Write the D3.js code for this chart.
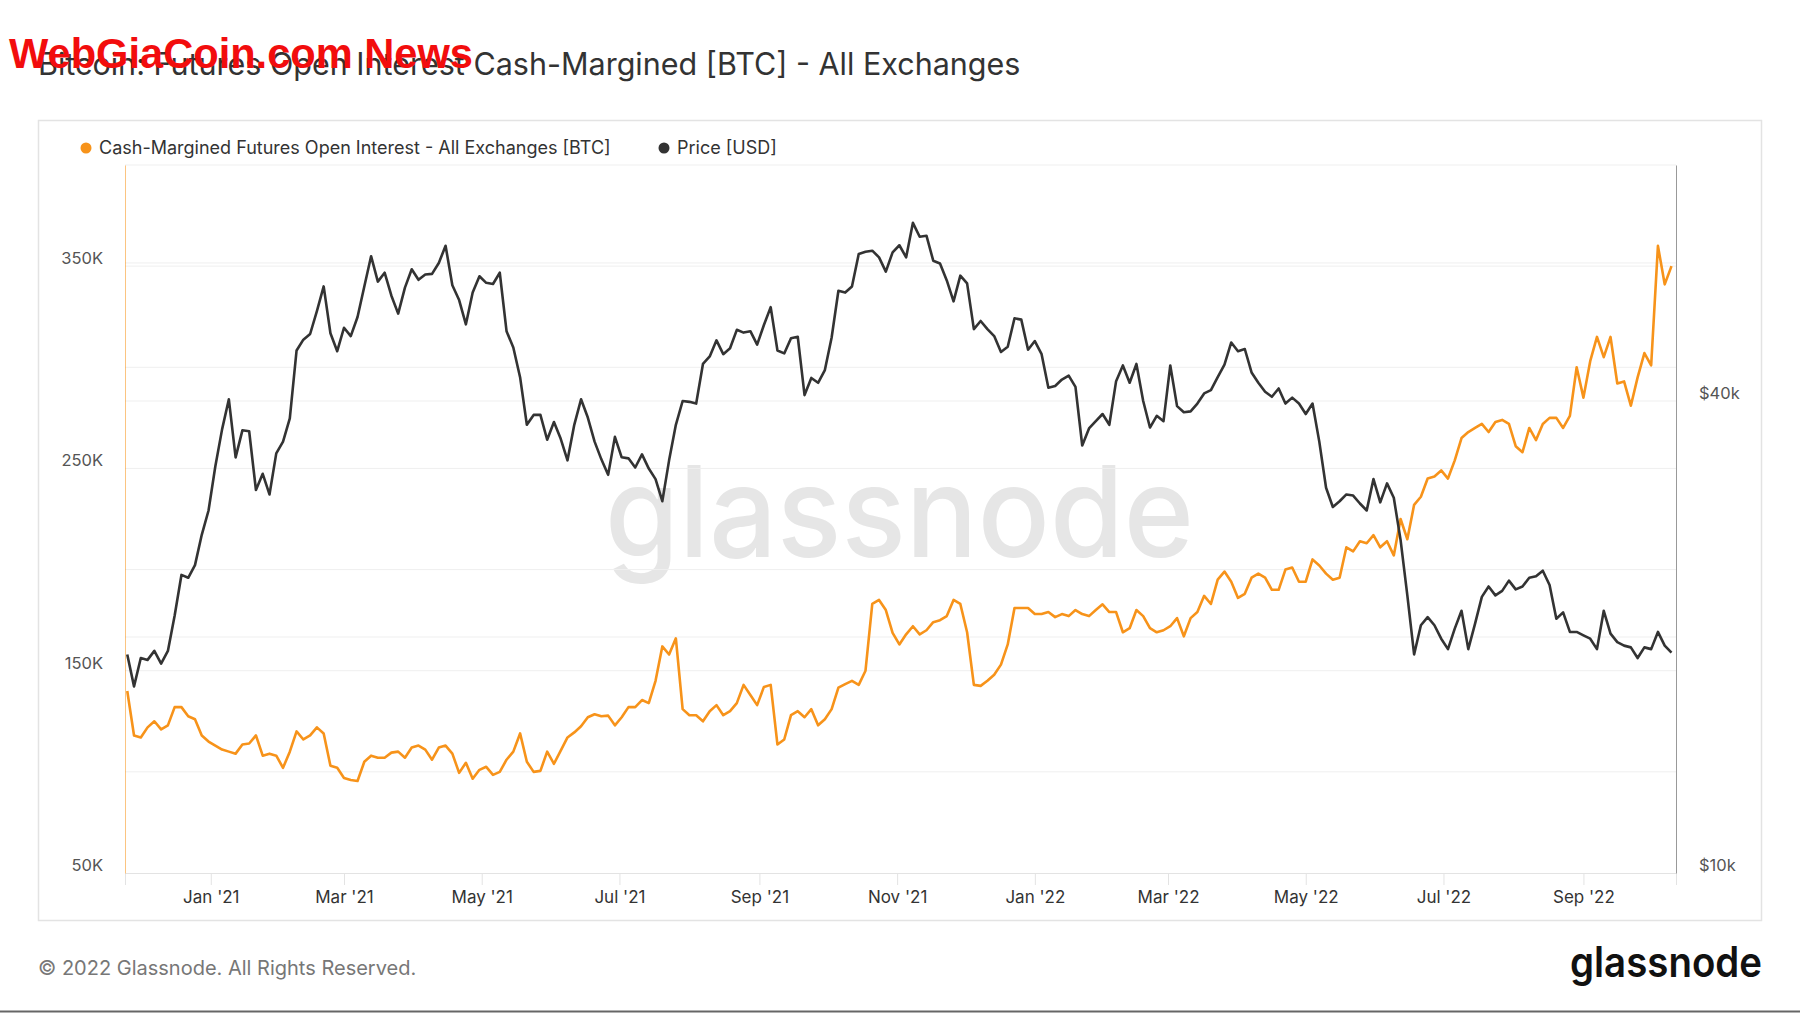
<!DOCTYPE html>
<html lang="en">
    <head>
        <meta charset="utf-8">
        <title>Futures Open Interest Cash-Margined</title>
        <script src="https://d3js.org/d3.v7.min.js"></script>
        <style type="text/css">
            body { margin: 0; background: #fff; }
            svg { display: block; font-family: Inter, "Noto Sans", sans-serif; }
        </style>
    </head>
    <body>
        <script type="text/javascript">

            //1. Consts
            const svgW = 1800;
            const svgH = 1013;
            const plot = {left: 125, right: 1676, top: 165, bottom: 873};
            const orange = "#f7931a";
            const dark = "#333333";

            //2. Data: one value every 3 days, 25 Nov 2020 -> 10 Oct 2022
            const startDate = new Date(2020, 10, 25);
            const stepDays = 3;

            // open interest, thousand BTC
            const oiValues = [
                140, 118, 117, 122, 125, 121, 123, 132, 132, 127.5,
                126, 118, 115, 113, 111, 110, 109, 113.5, 114, 118,
                108, 109, 108, 102, 110, 120, 116, 118, 122, 119,
                103, 102, 97, 96, 95.5, 105, 108, 107, 107, 109.5,
                110, 107, 112, 113, 111, 106, 112, 113, 109, 99.5,
                104.5, 96.6, 101, 102.5, 98.5, 100, 106, 110, 119, 105,
                100, 100.5, 110, 104, 110.5, 117, 119.5, 122.5, 127, 128.5,
                127.5, 127.8, 123, 127, 132, 132, 135.5, 134, 145, 162,
                158, 166, 131, 128, 128, 125, 130, 133, 128, 130,
                134, 143, 138, 133, 142, 143, 113.5, 116, 128, 130,
                127, 131, 123, 126, 131, 141.6, 143.4, 145, 143, 150,
                183, 185, 180, 168.7, 163, 168, 172, 168, 170, 174,
                175, 177, 185, 183, 169, 143, 142.5, 145, 148, 153,
                163, 181, 181, 181, 178, 178, 179, 176.5, 178, 177,
                180, 178, 177, 180, 182.8, 179, 179, 169, 171, 180,
                177, 171, 169, 170, 172, 176, 167, 176, 179, 187,
                183, 195, 199, 194, 186, 188, 196, 198, 196, 190,
                190, 200, 201, 194, 194, 205, 202, 198, 195, 196,
                211, 209, 214, 213, 217, 211, 214, 207, 225, 215,
                232, 236, 245, 246, 249, 245, 254, 265, 268, 270,
                272, 268, 273, 274, 272, 261, 258, 270, 264, 272,
                275, 275, 270, 276, 300, 285, 303, 315, 305, 315,
                292, 293, 281, 295, 307, 301, 360, 341, 350
            ];

            // BTC price, thousand USD
            const priceValues = [
                19.0, 17.3, 18.8, 18.7, 19.2, 18.5, 19.2, 21.3, 24.0, 23.8,
                24.7, 27.0, 29.0, 33.0, 36.8, 40.2, 33.9, 36.7, 36.6, 30.8,
                32.3, 30.4, 34.3, 35.5, 38.0, 46.4, 47.9, 48.7, 52.1, 56.0,
                48.8, 46.3, 49.6, 48.4, 51.2, 56.0, 61.2, 56.8, 58.3, 54.5,
                51.7, 55.8, 58.9, 57.1, 58.0, 58.1, 60.0, 63.1, 56.2, 53.8,
                50.1, 55.0, 57.7, 56.6, 56.4, 58.3, 49.1, 46.8, 42.9, 37.3,
                38.4, 38.4, 35.7, 37.6, 35.8, 33.6, 37.3, 40.2, 38.1, 35.5,
                33.7, 32.2, 36.0, 33.9, 33.8, 32.9, 34.2, 32.8, 31.8, 29.8,
                33.6, 37.3, 40.0, 39.9, 39.7, 44.6, 45.6, 47.8, 45.9, 46.7,
                49.3, 48.9, 49.1, 47.2, 50.0, 52.7, 46.4, 46.0, 48.1, 48.3,
                40.7, 42.8, 42.2, 43.8, 48.2, 55.3, 55.0, 56.0, 61.6, 62.0,
                62.2, 61.0, 58.5, 61.9, 63.2, 61.0, 67.5, 64.8, 65.0, 60.4,
                59.9, 57.0, 53.6, 57.8, 56.5, 49.4, 50.6, 49.4, 48.4, 46.2,
                46.9, 51.0, 50.8, 46.5, 47.7, 45.9, 41.6, 41.8, 42.6, 43.1,
                41.7, 35.1, 36.9, 37.7, 38.5, 37.3, 42.4, 44.4, 42.2, 44.6,
                40.0, 37.0, 38.3, 37.7, 44.4, 39.4, 38.7, 38.8, 39.7, 40.9,
                41.3, 42.9, 44.5, 47.5, 46.3, 46.6, 43.5, 42.2, 41.1, 40.5,
                41.5, 39.7, 40.4, 39.7, 38.5, 39.7, 35.5, 31.0, 29.3, 29.8,
                30.4, 30.3, 29.6, 29.0, 31.8, 29.7, 31.4, 30.1, 26.6, 22.6,
                19.0, 20.7, 21.2, 20.7, 19.9, 19.3, 20.5, 21.6, 19.3, 20.8,
                22.5, 23.2, 22.6, 22.9, 23.6, 23.0, 23.2, 23.8, 23.9, 24.3,
                23.3, 21.1, 21.5, 20.3, 20.3, 20.1, 19.9, 19.3, 21.6, 20.2,
                19.7, 19.5, 19.4, 18.8, 19.4, 19.3, 20.3, 19.5, 19.1
            ];

            // axis ticks
            const leftTicks = [50000, 150000, 250000, 350000];
            const leftGrid = [100000, 150000, 200000, 250000, 300000, 350000];
            const rightTicks = [10000, 40000];
            const rightGrid = [20000, 40000, 60000, 80000];
            const monthTicks = ["2021-01-01", "2021-03-01", "2021-05-01", "2021-07-01", "2021-09-01", "2021-11-01",
                                "2022-01-01", "2022-03-01", "2022-05-01", "2022-07-01", "2022-09-01"];

            const dates = oiValues.map((v, i) => d3.timeDay.offset(startDate, i * stepDays));
            const oiData = oiValues.map((v, i) => [dates[i], v * 1000]);
            const priceData = priceValues.map((v, i) => [dates[i], v * 1000]);

            //3. Scales
            const xScale = d3.scaleTime()
                            .domain([new Date(2020, 10, 24), new Date(2022, 9, 12)])
                            .range([plot.left, plot.right]);

            const yLeft = d3.scaleLinear()
                            .domain([50000, 400000])
                            .range([plot.bottom, plot.top]);

            const yRight = d3.scaleLog()
                            .domain([10000, 80000])
                            .range([plot.bottom, plot.top]);

            //4. SVG
            const svg = d3.select("body")
                        .append("svg")
                        .attr("width", svgW)
                        .attr("height", svgH);

            // title
            svg.append("text")
                .attr("x", 38)
                .attr("y", 75)
                .attr("font-size", "30.5px")
                .attr("fill", dark)
                .text("Bitcoin: Futures Open Interest Cash-Margined [BTC] - All Exchanges");

            // outer frame
            svg.append("rect")
                .attr("x", 38.5)
                .attr("y", 120.5)
                .attr("width", 1723)
                .attr("height", 800)
                .attr("fill", "none")
                .attr("stroke", "#e3e3e3")
                .attr("stroke-width", 1.5);

            // legend
            const legend = [
                {label: "Cash-Margined Futures Open Interest - All Exchanges [BTC]", color: orange, x: 86},
                {label: "Price [USD]", color: dark, x: 664}
            ];
            const lg = svg.selectAll(".legend")
                .data(legend)
                .enter()
                .append("g")
                .attr("transform", d => "translate(" + d.x + ",148)");
            lg.append("circle").attr("r", 5.5).attr("fill", d => d.color);
            lg.append("text")
                .attr("x", 13)
                .attr("dy", "0.35em")
                .attr("font-size", "18px")
                .attr("fill", dark)
                .text(d => d.label);

            // watermark
            svg.append("text")
                .attr("x", 605)
                .attr("y", 557)
                .attr("font-size", "126px")
                .attr("font-weight", 500)
                .attr("fill", "#e6e6e6")
                .attr("textLength", 589)
                .attr("lengthAdjust", "spacingAndGlyphs")
                .text("glassnode");

            // grid lines
            svg.selectAll(".gridL")
                .data(leftGrid)
                .enter()
                .append("line")
                .attr("x1", plot.left).attr("x2", plot.right)
                .attr("y1", d => yLeft(d)).attr("y2", d => yLeft(d))
                .attr("stroke", "#efefef");

            svg.selectAll(".gridR")
                .data(rightGrid)
                .enter()
                .append("line")
                .attr("x1", plot.left).attr("x2", plot.right)
                .attr("y1", d => yRight(d)).attr("y2", d => yRight(d))
                .attr("stroke", "#efefef");

            // bottom (x) axis
            const bottomAxis = d3.axisBottom(xScale)
                                .tickValues(monthTicks.map(d => d3.timeParse("%Y-%m-%d")(d)))
                                .tickFormat(d3.timeFormat("%b '%y"))
                                .tickSize(12)
                                .tickPadding(6);

            const gx = svg.append("g")
                .attr("transform", "translate(0," + plot.bottom + ")")
                .call(bottomAxis);
            gx.select(".domain").attr("stroke", "#e3e3e3");
            gx.selectAll(".tick line").attr("stroke", "#e3e3e3");
            gx.selectAll(".tick text")
                .attr("font-family", "Inter, sans-serif")
                .attr("font-size", "17px")
                .attr("fill", dark);

            // left (Y) axis
            const leftAxis = d3.axisLeft(yLeft)
                                .tickValues(leftTicks)
                                .tickFormat(d => (d / 1000) + "K")
                                .tickSize(0)
                                .tickPadding(22);

            const gl = svg.append("g")
                .attr("transform", "translate(" + plot.left + ",0)")
                .call(leftAxis);
            gl.select(".domain").attr("stroke", orange).attr("stroke-opacity", 0.55);
            gl.selectAll(".tick text")
                .attr("font-family", "Inter, sans-serif")
                .attr("font-size", "16.5px")
                .attr("fill", "#555")
                .attr("dy", "-0.15em");

            // right (price) axis
            const rightAxis = d3.axisRight(yRight)
                                .tickValues(rightTicks)
                                .tickFormat(d => "$" + (d / 1000) + "k")
                                .tickSize(0)
                                .tickPadding(23);

            const gr = svg.append("g")
                .attr("transform", "translate(" + plot.right + ",0)")
                .call(rightAxis);
            gr.select(".domain").attr("stroke", "#999");
            gr.selectAll(".tick text")
                .attr("font-family", "Inter, sans-serif")
                .attr("font-size", "16.5px")
                .attr("fill", "#555")
                .attr("dy", "-0.15em");

            // lines
            const oiLine = d3.line()
                            .x(d => xScale(d[0]))
                            .y(d => yLeft(d[1]));

            const priceLine = d3.line()
                            .x(d => xScale(d[0]))
                            .y(d => yRight(d[1]));

            svg.append("path")
                .datum(oiData)
                .attr("d", oiLine)
                .attr("fill", "none")
                .attr("stroke", orange)
                .attr("stroke-width", 2.6)
                .attr("stroke-linejoin", "round");

            svg.append("path")
                .datum(priceData)
                .attr("d", priceLine)
                .attr("fill", "none")
                .attr("stroke", dark)
                .attr("stroke-width", 2.6)
                .attr("stroke-linejoin", "round");

            // footer
            svg.append("text")
                .attr("x", 38)
                .attr("y", 975)
                .attr("font-size", "20px")
                .attr("fill", "#777")
                .text("\u00a9 2022 Glassnode. All Rights Reserved.");

            svg.append("text")
                .attr("x", 1570)
                .attr("y", 977)
                .attr("font-size", "42px")
                .attr("font-weight", 600)
                .attr("fill", "#111")
                .attr("textLength", 192)
                .attr("lengthAdjust", "spacingAndGlyphs")
                .text("glassnode");

            svg.append("line")
                .attr("x1", 0).attr("x2", svgW)
                .attr("y1", 1011.5).attr("y2", 1011.5)
                .attr("stroke", "#666")
                .attr("stroke-width", 2);

            // red stamp over the title
            svg.append("text")
                .attr("x", 9)
                .attr("y", 68)
                .attr("font-family", "'Liberation Sans', Arial, sans-serif")
                .attr("font-size", "43px")
                .attr("font-weight", "bold")
                .attr("fill", "#f20d0d")
                .attr("textLength", 464)
                .attr("lengthAdjust", "spacingAndGlyphs")
                .text("WebGiaCoin.com News");

        </script>
    </body>
</html>
